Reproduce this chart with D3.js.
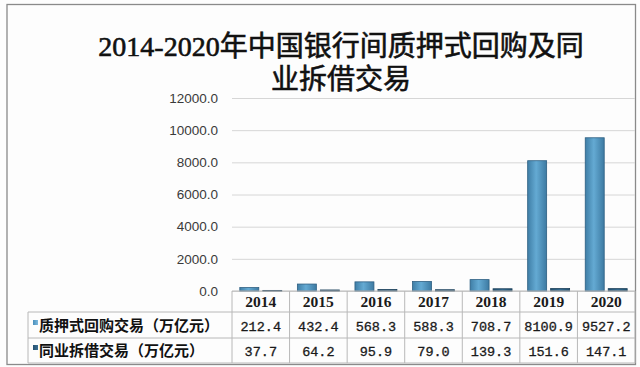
<!DOCTYPE html>
<html>
<head>
<meta charset="utf-8">
<script src="https://cdn.jsdelivr.net/npm/d3@7"></script>
<style>
html,body{margin:0;padding:0;background:#ffffff;}
svg{display:block;}
</style>
</head>
<body>
<svg id="chart" width="640" height="367"></svg>
<script>
// ---- data ----
const years = ["2014","2015","2016","2017","2018","2019","2020"];
const repoValues = [212.4, 432.4, 568.3, 588.3, 708.7, 8100.9, 9527.2];
const lendingValues = [37.7, 64.2, 95.9, 79.0, 139.3, 151.6, 147.1];
const seriesNames = ["质押式回购交易（万亿元）", "同业拆借交易（万亿元）"];
const yTicks = [0, 2000, 4000, 6000, 8000, 10000, 12000];
const titleLines = ["2014-2020年中国银行间质押式回购及同", "业拆借交易"];

// ---- layout ----
const svg = d3.select("#chart");
const plotL = 232, plotR = 635, plotT = 98, plotB = 291;
const tableL = 28;
const rowLines = [291, 312, 338, 363];

const x = d3.scaleBand().domain(years).range([plotL, plotR]).paddingInner(0).paddingOuter(0);
const xs = d3.scaleBand().domain([0, 1]).range([0, x.bandwidth()]).paddingInner(0.174).paddingOuter(0.34);
const y = d3.scaleLinear().domain([0, 12000]).range([plotB, plotT]);

const defs = svg.append("defs");
function grad(id, stops) {
  const g = defs.append("linearGradient").attr("id", id).attr("x1", "0").attr("x2", "1").attr("y1", "0").attr("y2", "0");
  stops.forEach(s => g.append("stop").attr("offset", s[0]).attr("stop-color", s[1]));
}
grad("g1", [[0, "#3f7ea6"], [0.45, "#64aad3"], [1, "#3d7aa2"]]);
grad("g2", [[0, "#23506f"], [0.5, "#336a8f"], [1, "#22506f"]]);
grad("m1", [[0, "#4a8fbb"], [1, "#7db9de"]]);
grad("m2", [[0, "#244f6e"], [1, "#3b6f93"]]);

// background + frame
svg.append("rect").attr("x", 0).attr("y", 0).attr("width", 640).attr("height", 367).attr("fill", "#fdfdfd");
svg.append("rect").attr("x", 7).attr("y", 4.5).attr("width", 628.5).attr("height", 360)
  .attr("fill", "#fdfdfd").attr("stroke", "#8a8a8a").attr("stroke-width", 1.3);

// title
const title = svg.append("text").attr("text-anchor", "middle")
  .style("font-family", "'Liberation Serif','Noto Sans CJK SC',serif")
  .style("font-weight", "normal").style("font-size", "28px").attr("fill", "#111")
  .attr("stroke", "#111").attr("stroke-width", 0.6);
titleLines.forEach((t, i) => {
  title.append("tspan").attr("x", 341).attr("y", 56 + i * 33).text(t);
});

// y axis with gridlines
const yAxis = svg.append("g").attr("transform", `translate(${plotL},0)`)
  .call(d3.axisLeft(y).tickValues(yTicks).tickFormat(d3.format(".1f")).tickSize(-(plotR - plotL)).tickPadding(14));
yAxis.select(".domain").remove();
yAxis.selectAll(".tick line").attr("stroke", "#d6d6d6").attr("stroke-width", 1);
yAxis.selectAll(".tick text").attr("fill", "#3a3a3a")
  .style("font-family", "'Liberation Sans','Open Sans',sans-serif").style("font-size", "13.5px");

// bars
const series = [repoValues, lendingValues];
const fills = ["url(#g1)", "url(#g2)"];
const strokes = ["#2d5f82", "#1b3f59"];
series.forEach((vals, si) => {
  svg.append("g").selectAll("rect").data(vals).enter().append("rect")
    .attr("x", (d, i) => x(years[i]) + xs(si))
    .attr("width", xs.bandwidth())
    .attr("y", d => y(d))
    .attr("height", d => y(0) - y(d))
    .attr("fill", fills[si])
    .attr("stroke", strokes[si]).attr("stroke-width", 0.8);
});

// data table
const tbl = svg.append("g");
const lineColor = "#b8b8b8";
tbl.append("line").attr("x1", plotL).attr("x2", plotR).attr("y1", rowLines[0]).attr("y2", rowLines[0]).attr("stroke", lineColor);
[1, 2, 3].forEach(k => {
  tbl.append("line").attr("x1", tableL).attr("x2", plotR).attr("y1", rowLines[k]).attr("y2", rowLines[k]).attr("stroke", lineColor);
});
tbl.append("line").attr("x1", tableL).attr("x2", tableL).attr("y1", rowLines[1]).attr("y2", rowLines[3]).attr("stroke", lineColor);
years.forEach(yr => {
  tbl.append("line").attr("x1", x(yr)).attr("x2", x(yr)).attr("y1", rowLines[0]).attr("y2", rowLines[3]).attr("stroke", lineColor);
});
tbl.append("line").attr("x1", plotR).attr("x2", plotR).attr("y1", rowLines[0]).attr("y2", rowLines[3]).attr("stroke", lineColor);

// header years
tbl.selectAll("text.yr").data(years).enter().append("text")
  .attr("x", d => x(d) + x.bandwidth() / 2).attr("y", 307)
  .attr("text-anchor", "middle")
  .style("font-family", "'Liberation Serif',serif").style("font-weight", "bold").style("font-size", "15.5px")
  .attr("fill", "#1a1a1a").text(d => d);

// rows
const rowText = [331, 356];
series.forEach((vals, si) => {
  tbl.append("rect").attr("x", 33).attr("y", rowText[si] - 11).attr("width", 5).attr("height", 5)
    .attr("fill", si === 0 ? "url(#m1)" : "url(#m2)");
  tbl.append("text").attr("x", 39).attr("y", rowText[si])
    .style("font-family", "'Noto Sans CJK SC',sans-serif").style("font-weight", "bold").style("font-size", "15px")
    .attr("fill", "#111").text(seriesNames[si]);
  tbl.append("g").selectAll("text").data(vals).enter().append("text")
    .attr("x", (d, i) => x(years[i]) + x.bandwidth() / 2).attr("y", rowText[si])
    .attr("text-anchor", "middle")
    .style("font-family", "'Liberation Mono',monospace").style("font-size", "13.5px")
    .attr("fill", "#1a1a1a").attr("stroke", "#1a1a1a").attr("stroke-width", 0.3)
    .text(d => d3.format(".1f")(d));
});
</script>
</body>
</html>
